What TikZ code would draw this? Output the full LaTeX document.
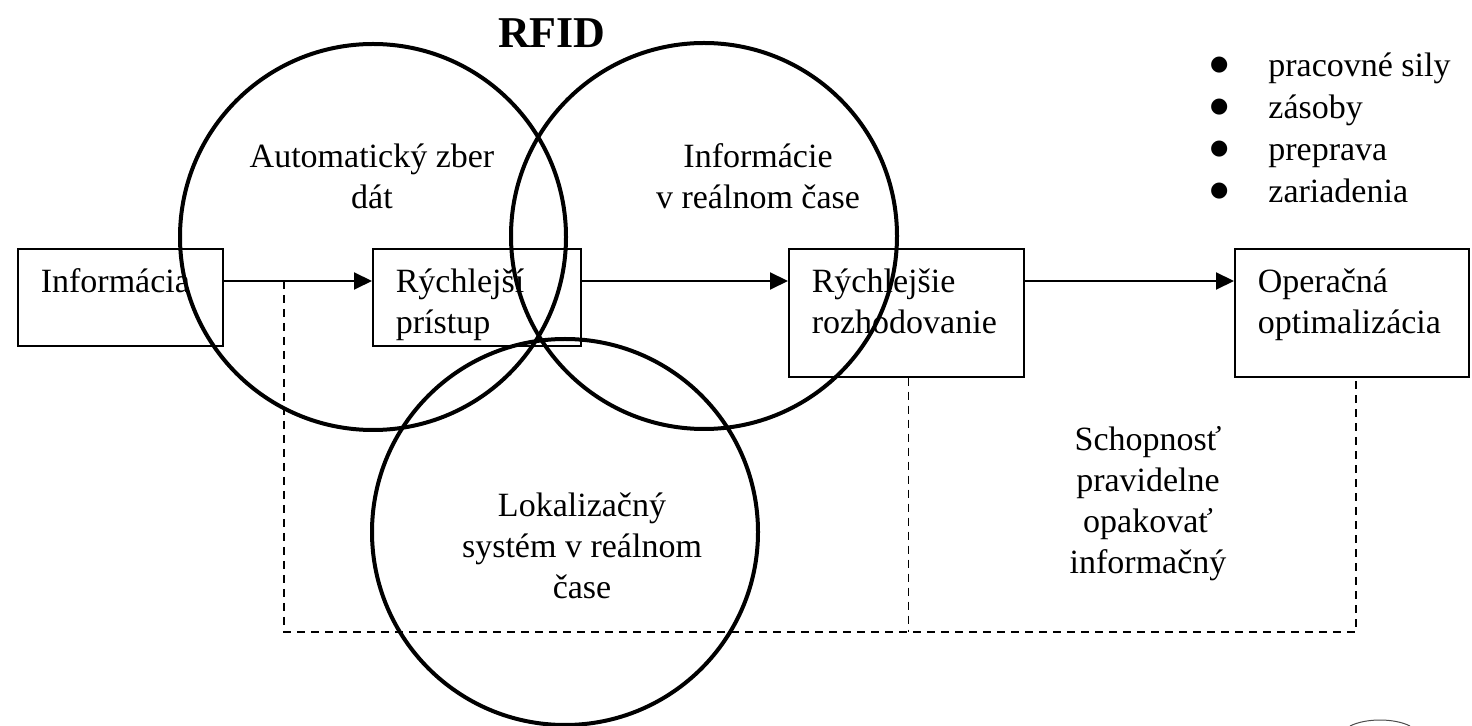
\documentclass[tikz,border=0pt]{standalone}
\usepackage{fontspec}
\setmainfont{Liberation Serif}
\newfontfamily\symfont{DejaVu Sans}
\usepackage{tikz}
\usetikzlibrary{arrows.meta}
\newcommand{\bigbul}{\raisebox{3pt}{\symfont\fontsize{10.5}{12}\selectfont ●}}

\begin{document}
\begin{tikzpicture}[
  x=0.5pt, y=-0.5pt,
  font=\fontsize{17}{20.5}\selectfont,
  every node/.style={align=center},
  box/.style={rectangle, draw, line width=0.8pt, anchor=north west,
              inner xsep=11.5pt, inner ysep=0pt, align=left, text height=22pt},
  ring/.style={circle, draw, line width=2pt, minimum size=193pt, inner sep=0pt},
  arr/.style={-{Triangle[length=9pt, width=8.5pt]}, line width=1pt},
  dashline/.style={line width=0.8pt, dash pattern=on 4pt off 3pt}
]
  \useasboundingbox (0,0) rectangle (1472,726);

  \node[ring] (collect) at (373,237) {};
  \node[ring] (realtime) at (704,236) {};
  \node[ring] (locate) at (565,532) {};

  \node[font=\fontsize{22}{26}\selectfont\bfseries] (rfid) at (552,33) {RFID};
  \node (collecttxt) at (372,176) {Automatický zber\\dát};
  \node (realtimetxt) at (758,176) {Informácie\\v reálnom čase};
  \node (locatetxt) at (582,546) {Lokalizačný\\systém v reálnom\\čase};

  \node[box, minimum width=102.5pt, minimum height=48.5pt, text width=79.5pt, text depth=26.5pt]
    (info) at (17,248) {Informácia};
  \node[box, minimum width=104pt, minimum height=48.5pt, text width=81pt, text depth=26.5pt]
    (faster) at (372,248) {Rýchlejší\\prístup};
  \node[box, minimum width=117.5pt, minimum height=64pt, text width=94.5pt, text depth=42pt]
    (decide) at (788,248) {Rýchlejšie\\rozhodovanie};
  \node[box, minimum width=117pt, minimum height=64pt, text width=94pt, text depth=42pt]
    (optim) at (1234,248) {Operačná\\optimalizácia};

  \node[anchor=west, font=\fontsize{17}{21}\selectfont] (resources) at (1203,131)
    {\begin{tabular}{@{}l@{\hspace{20pt}}l@{}}
      \bigbul & pracovné sily\\
      \bigbul & zásoby\\
      \bigbul & preprava\\
      \bigbul & zariadenia
    \end{tabular}};

  \node (ability) at (1148,504) {Schopnosť\\pravidelne\\opakovať\\informačný};

  \draw[arr] ([yshift=-16.5pt]info.north east) -- ([yshift=-16.5pt]faster.north west);
  \draw[arr] ([yshift=-16.5pt]faster.north east) -- ([yshift=-16.5pt]decide.north west);
  \draw[arr] ([yshift=-16.5pt]decide.north east) -- ([yshift=-16.5pt]optim.north west);

  \coordinate (tap) at (284,281);
  \coordinate (floor) at (0,632);
  \draw[dashline] (tap) -- (tap |- floor) -| ([xshift=2pt]optim.south);
  \draw[dashline] ([xshift=1pt]decide.south) -- ([xshift=1pt]decide.south |- floor);

  \draw[line width=0.5pt, black!70] (1350,726) .. controls (1366,718) and (1394,718) .. (1410,726);
\end{tikzpicture}
\end{document}
